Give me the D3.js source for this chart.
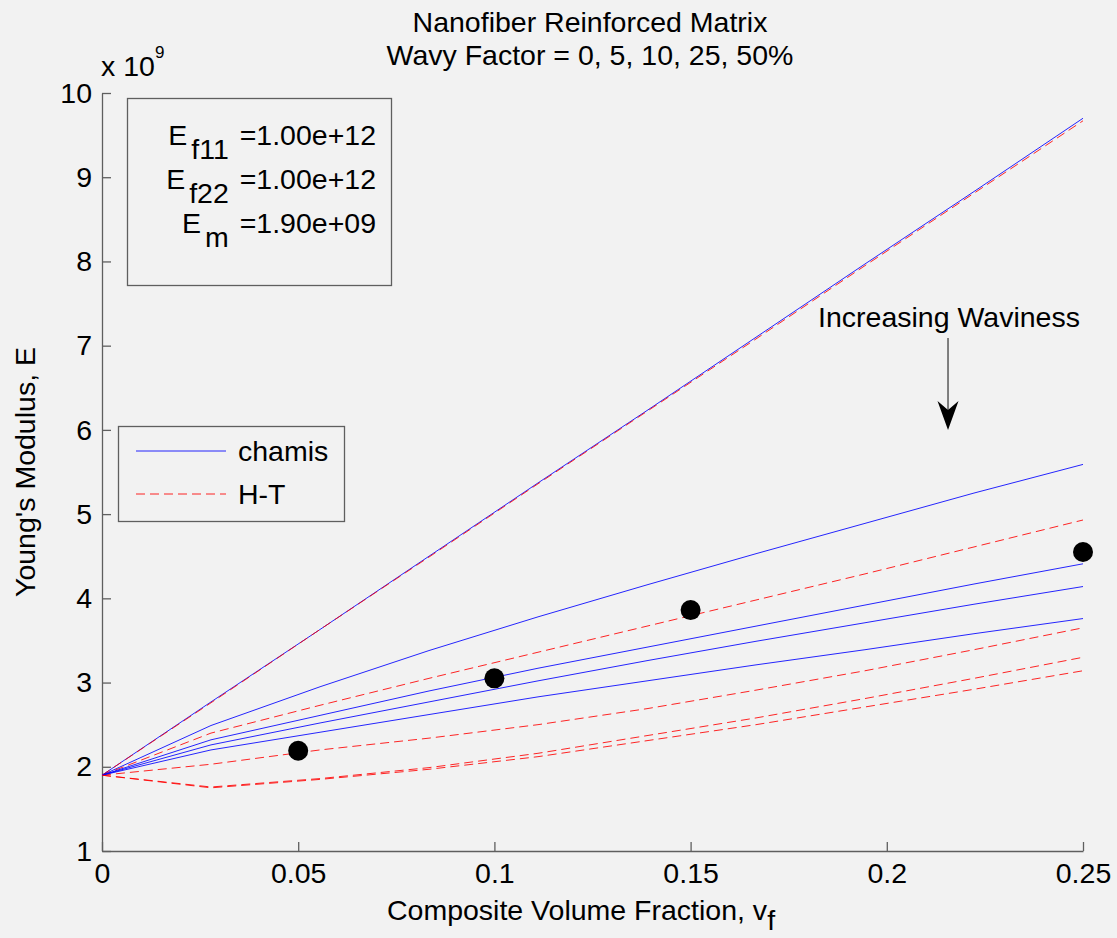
<!DOCTYPE html>
<html><head><meta charset="utf-8">
<script src="https://cdn.jsdelivr.net/npm/d3@7"></script>
<style>
body{margin:0;background:#f2f2f2;}
svg{display:block;}
text{font-family:"Liberation Sans",Arial,sans-serif;fill:#000;}
</style>
</head><body>
<svg id="c" width="1117" height="938"></svg>
<script>
// ---- data (E in units of 1e9) ----
const vf = [0, 0.02778, 0.05556, 0.08333, 0.11111, 0.13889, 0.16667, 0.19444, 0.22222, 0.25];
const wavyFactors = ["0%", "5%", "10%", "25%", "50%"];
const chamisW0  = [1.9, 2.77, 3.63, 4.50, 5.37, 6.23, 7.10, 7.97, 8.83, 9.70];
const chamisW5  = [1.9, 2.49, 2.95, 3.38, 3.78, 4.16, 4.53, 4.89, 5.25, 5.59];
const chamisW10 = [1.9, 2.32, 2.61, 2.90, 3.17, 3.42, 3.67, 3.92, 4.17, 4.41];
const chamisW25 = [1.9, 2.26, 2.52, 2.77, 3.02, 3.26, 3.49, 3.71, 3.93, 4.14];
const chamisW50 = [1.9, 2.20, 2.41, 2.62, 2.83, 3.02, 3.21, 3.39, 3.58, 3.76];
const htW0  = [1.9, 2.76, 3.63, 4.49, 5.36, 6.22, 7.08, 7.95, 8.81, 9.67];
const htW5  = [1.9, 2.40, 2.73, 3.05, 3.36, 3.67, 3.98, 4.29, 4.61, 4.93];
const htW10 = [1.9, 2.03, 2.20, 2.34, 2.50, 2.69, 2.91, 3.14, 3.39, 3.65];
const htW25 = [1.9, 1.76, 1.86, 1.99, 2.16, 2.37, 2.58, 2.81, 3.05, 3.30];
const htW50 = [1.9, 1.75, 1.85, 1.97, 2.12, 2.31, 2.50, 2.71, 2.92, 3.14];
const expVf = [0.05, 0.10, 0.15, 0.25];
const expE  = [2.19, 3.05, 3.86, 4.55];
const xTicks = [0, 0.05, 0.1, 0.15, 0.2, 0.25];
const xTickLabels = ["0", "0.05", "0.1", "0.15", "0.2", "0.25"];
const yTicks = [1, 2, 3, 4, 5, 6, 7, 8, 9, 10];
const yTickLabels = ["1", "2", "3", "4", "5", "6", "7", "8", "9", "10"];
const legendLabels = ["chamis", "H-T"];
const infoLines = [["E", "f11", " =1.00e+12"], ["E", "f22", " =1.00e+12"], ["E", "m", " =1.90e+09"]];

const chamis = [chamisW0, chamisW5, chamisW10, chamisW25, chamisW50];
const ht = [htW0, htW5, htW10, htW25, htW50];

// ---- layout ----
const L = 102, R = 1083, T = 93, B = 851;
const FS = 28.5;
const svg = d3.select("#c");
svg.append("rect").attr("width", 1117).attr("height", 938).attr("fill", "#f2f2f2");

const x = d3.scaleLinear().domain([0, 0.25]).range([L, R]);
const y = d3.scaleLinear().domain([1, 10]).range([B, T]);

// axes
const ax = svg.append("g").attr("transform", `translate(0,${B})`)
  .call(d3.axisBottom(x).tickValues(xTicks).tickFormat((d, i) => xTickLabels[i])
        .tickSizeInner(-9).tickSizeOuter(0).tickPadding(12));
const ay = svg.append("g").attr("transform", `translate(${L},0)`)
  .call(d3.axisLeft(y).tickValues(yTicks).tickFormat((d, i) => yTickLabels[i])
        .tickSizeInner(-9).tickSizeOuter(0).tickPadding(10));
[ax, ay].forEach(g => {
  g.selectAll("path.domain").attr("stroke", "#5f5f5f").attr("stroke-width", 1.3);
  g.selectAll(".tick line").attr("stroke", "#5f5f5f").attr("stroke-width", 1.3);
  g.selectAll(".tick text").attr("font-size", FS).attr("font-family", "Liberation Sans, Arial, sans-serif").attr("fill", "#000");
});

// lines
const line = d3.line().x((d, i) => x(vf[i])).y(d => y(d));
const plotG = svg.append("g");
chamis.forEach((s, k) => {
  plotG.append("path").datum(s).attr("d", line).attr("fill", "none")
    .attr("stroke", "#0000ff").attr("stroke-width", 1).attr("stroke-opacity", 0.85);
  plotG.append("path").datum(ht[k]).attr("d", line).attr("fill", "none")
    .attr("stroke", "#ff0000").attr("stroke-width", 1).attr("stroke-opacity", 0.85)
    .attr("stroke-dasharray", "9,5");
});

// experimental points
plotG.selectAll("circle.exp").data(expE).enter().append("circle")
  .attr("cx", (d, i) => x(expVf[i])).attr("cy", d => y(d)).attr("r", 10).attr("fill", "#000");

// titles
svg.append("text").attr("x", 590).attr("y", 32).attr("text-anchor", "middle").attr("font-size", FS)
  .text("Nanofiber Reinforced Matrix");
svg.append("text").attr("x", 590).attr("y", 65).attr("text-anchor", "middle").attr("font-size", FS)
  .text("Wavy Factor = 0, 5, 10, 25, 50%");

// exponent label
const ex = svg.append("text").attr("x", 101).attr("y", 76).attr("font-size", FS);
ex.append("tspan").text("x 10");
ex.append("tspan").attr("font-size", 17).attr("dy", -18).text("9");

// axis labels
const xl = svg.append("text").attr("x", 581).attr("y", 920).attr("text-anchor", "middle").attr("font-size", FS);
xl.append("tspan").text("Composite Volume Fraction, v");
xl.append("tspan").attr("dy", 10).text("f");
svg.append("text").attr("transform", `translate(35,${(T + B) / 2}) rotate(-90)`)
  .attr("text-anchor", "middle").attr("font-size", FS).text("Young's Modulus, E");

// info box
svg.append("rect").attr("x", 127.5).attr("y", 98.5).attr("width", 264).attr("height", 187)
  .attr("fill", "none").attr("stroke", "#5f5f5f").attr("stroke-width", 1.3);
infoLines.forEach((ln, i) => {
  const t = svg.append("text").attr("x", 376).attr("y", 145 + i * 44).attr("text-anchor", "end").attr("font-size", FS);
  t.append("tspan").text(ln[0]);
  t.append("tspan").attr("dx", 4).attr("dy", 14).text(ln[1]);
  t.append("tspan").attr("dx", 3).attr("dy", -14).text(ln[2]);
});

// legend
svg.append("rect").attr("x", 118.5).attr("y", 426.5).attr("width", 226).attr("height", 95)
  .attr("fill", "#f2f2f2").attr("stroke", "#5f5f5f").attr("stroke-width", 1.3);
const legStyles = [{c: "#0000ff", d: null}, {c: "#ff0000", d: "9,5"}];
legendLabels.forEach((lab, i) => {
  const yy = 451 + i * 43;
  const l = svg.append("line").attr("x1", 136).attr("x2", 226).attr("y1", yy).attr("y2", yy)
    .attr("stroke", legStyles[i].c).attr("stroke-width", 1).attr("stroke-opacity", 0.85);
  if (legStyles[i].d) l.attr("stroke-dasharray", legStyles[i].d);
  svg.append("text").attr("x", 238).attr("y", yy + 10).attr("font-size", FS).text(lab);
});

// annotation arrow (data coords)
const annX = 0.2156, annY0 = 7.09, annY1 = 6.0;
svg.append("text").attr("x", x(annX) + 1).attr("y", y(annY0) - 11).attr("text-anchor", "middle")
  .attr("font-size", FS).text("Increasing Waviness");
const ax0 = x(annX), ay0 = y(annY0), ay1 = y(annY1);
svg.append("line").attr("x1", ax0).attr("x2", ax0).attr("y1", ay0).attr("y2", ay1 - 15)
  .attr("stroke", "#333").attr("stroke-width", 1.2);
svg.append("path")
  .attr("d", `M${ax0},${ay1} L${ax0 - 10.5},${ay1 - 29} L${ax0},${ay1 - 20} L${ax0 + 10.5},${ay1 - 29} Z`)
  .attr("fill", "#000");
</script>
</body></html>
